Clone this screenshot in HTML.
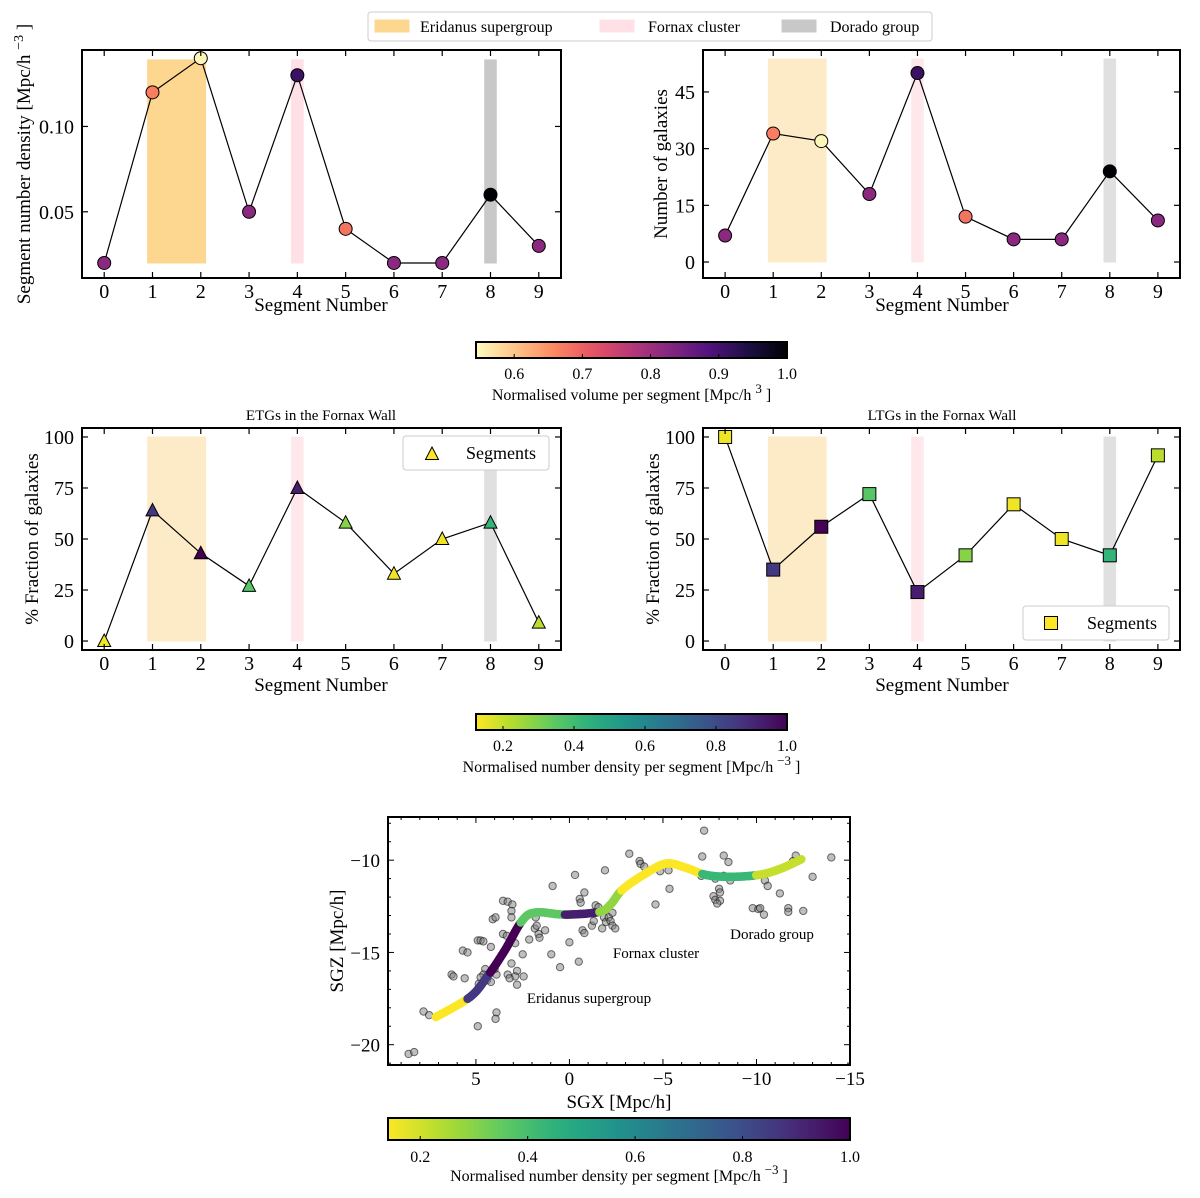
<!DOCTYPE html>
<html><head><meta charset="utf-8"><style>
body{margin:0;background:#fff}
svg{display:block;font-family:"Liberation Serif",serif}
svg text{font-family:"Liberation Serif",serif}
</style></head><body>
<svg id="fig" width="1200" height="1198" viewBox="0 0 1200 1198" xmlns="http://www.w3.org/2000/svg">
<defs>
<linearGradient id="gMagma" x1="0" x2="1" y1="0" y2="0"></linearGradient>
<linearGradient id="gVir" x1="0" x2="1" y1="0" y2="0"></linearGradient>
</defs>
</svg>
<script>
const segments = [0,1,2,3,4,5,6,7,8,9];
const density = [0.02,0.12,0.14,0.05,0.13,0.04,0.02,0.02,0.06,0.03];
const nGalaxies = [7,34,32,18,50,12,6,6,24,11];
const volume = [0.82,0.67,0.55,0.82,0.91,0.68,0.82,0.82,1.0,0.82];
const etgFrac = [0,64,43,27,75,58,33,50,58,9];
const ltgFrac = [100,35,56,72,24,42,67,50,42,91];
const ytickDensity = [0.05,0.10];
const ytickCount = [0,15,30,45];
const ytickFrac = [0,25,50,75,100];
const cbVolTicks = [0.6,0.7,0.8,0.9,1.0];
const cbDenTicks = [0.2,0.4,0.6,0.8,1.0];
const sgxTicks = [5,0,-5,-10,-15];
const sgzTicks = [-10,-15,-20];
const curveX = [7.14,5.32,4.39,3.46,2.53,1.78,0.24,-1.6,-2.2,-2.86,-4.16,-5.19,-6.2,-7.3,-8.6,-10.1,-11.2,-12.4];
const curveY = [-18.5,-17.42,-16.3,-14.9,-13.28,-12.83,-12.95,-12.8,-12.4,-11.57,-10.67,-10.18,-10.4,-10.8,-10.9,-10.8,-10.5,-9.95];
const segBoundsX = [5.4,4.2,2.6,0.2,-1.6,-2.8,-5.0,-7.1,-10.0];
const galX = [8.6,8.3,7.8,7.5,4.9,6.3,6.2,5.6,5.7,5.45,4.9,4.75,4.6,4.2,4.1,3.95,3.55,3.3,3.05,3.1,3.1,3.55,3.35,2.9,3.1,3.3,2.8,2.9,3.2,2.8,2.45,3.9,4.0,4.5,4.6,4.75,4.85,4.4,4.2,3.9,3.95,2.5,2.15,1.85,1.75,1.65,1.6,1.3,1.8,0.9,0.97,0.5,0.0,-0.3,-0.55,-0.6,-0.8,-0.5,-0.7,-0.8,-1.2,-1.3,-1.4,-1.55,-1.75,-1.85,-1.95,-2.1,-2.2,-2.3,-2.45,-2.3,-1.75,-1.9,-3.2,-3.75,-3.8,-4.0,-4.6,-4.85,-5.3,-5.35,-7.2,-7.1,-7.05,-7.8,-8.25,-8.5,-8.6,-8.25,-8.0,-8.05,-7.7,-7.8,-8.05,-7.9,-9.8,-10.1,-10.2,-10.4,-10.45,-10.6,-11.25,-11.7,-11.7,-11.95,-12.1,-12.5,-13.0,-14.0];
const galY = [-20.5,-20.4,-18.2,-18.4,-19.0,-16.2,-16.3,-16.4,-14.9,-15.0,-14.35,-14.35,-14.4,-14.7,-13.2,-13.1,-12.2,-12.25,-12.4,-12.75,-13.1,-14.0,-14.1,-14.5,-15.6,-16.2,-16.0,-16.3,-16.4,-16.75,-16.3,-16.2,-15.9,-15.9,-16.2,-16.35,-16.7,-16.5,-16.6,-18.25,-18.6,-15.1,-14.3,-13.7,-13.55,-14.0,-14.2,-13.8,-13.1,-11.4,-15.1,-15.8,-14.45,-10.8,-12.1,-12.3,-11.75,-15.5,-13.8,-13.95,-13.55,-13.3,-12.45,-12.55,-12.75,-13.1,-13.35,-13.1,-13.3,-13.55,-13.7,-12.85,-13.7,-10.55,-9.65,-10.05,-10.2,-10.35,-12.4,-10.6,-10.55,-11.55,-8.4,-9.8,-10.85,-11.0,-9.75,-10.1,-11.1,-10.85,-11.55,-11.75,-11.95,-12.15,-12.2,-12.35,-12.6,-12.65,-12.6,-12.95,-11.1,-11.4,-11.8,-12.6,-12.8,-10.05,-9.75,-12.75,-10.9,-9.85];

const NS="http://www.w3.org/2000/svg";
const svg=document.getElementById('fig');
function el(tag,attrs,parent){const e=document.createElementNS(NS,tag);for(const k in attrs)e.setAttribute(k,attrs[k]);(parent||svg).appendChild(e);return e;}
function txt(s,x,y,size,anchor,parent,rot){const t=el('text',{x:x,y:y,'font-size':size,'text-anchor':anchor||'middle',fill:'#000','font-family':'Liberation Serif, serif'},parent);if(rot)t.setAttribute('transform','rotate(-90 '+x+' '+y+')');t.textContent=s;return t;}
function hex(c){return [parseInt(c.slice(1,3),16),parseInt(c.slice(3,5),16),parseInt(c.slice(5,7),16)];}
function cmap(stops,t){t=Math.max(0,Math.min(1,t));const n=stops.length-1;const i=Math.min(n-1,Math.floor(t*n));const f=t*n-i;const a=hex(stops[i]),b=hex(stops[i+1]);return 'rgb('+a.map((v,k)=>Math.round(v+(b[k]-v)*f)).join(',')+')';}
const MAGMA=['#000004','#1c1044','#51127c','#832681','#b73779','#e75263','#fc8961','#fec488','#fcfdbf'];
const VIR=['#440154','#472d7b','#3b528b','#2c728e','#21918c','#28ae80','#5ec962','#addc30','#fde725'];
const volMin=0.544, denMin=0.124, denMin2=0.14;
const maxD=Math.max(...density);
function volColor(v){return cmap(MAGMA,1-(v-volMin)/(1-volMin));}
function denColor(v){return cmap(VIR,1-(v-denMin)/(1-denMin));}

function makeAxes(name,L,T,R,B,x0,x1,y0,y1){
  const g=el('g',{});
  return {g,L,T,R,B,sx:v=>L+(v-x0)/(x1-x0)*(R-L),sy:v=>B-(v-y0)/(y1-y0)*(B-T)};
}
function frame(ax){el('rect',{x:ax.L,y:ax.T,width:ax.R-ax.L,height:ax.B-ax.T,fill:'none',stroke:'#000','stroke-width':2},ax.g);}
function xticks(ax,vals,labels,size){vals.forEach((v,i)=>{const x=ax.sx(v);el('line',{x1:x,x2:x,y1:ax.B,y2:ax.B-6,stroke:'#000','stroke-width':1.2},ax.g);el('line',{x1:x,x2:x,y1:ax.T,y2:ax.T+6,stroke:'#000','stroke-width':1.2},ax.g);const t=txt(labels[i],x,ax.B+20,size||20,'middle',ax.g);});}
function yticks(ax,vals,labels,size){vals.forEach((v,i)=>{const y=ax.sy(v);el('line',{x1:ax.L,x2:ax.L+6,y1:y,y2:y,stroke:'#000','stroke-width':1.2},ax.g);el('line',{x1:ax.R,x2:ax.R-6,y1:y,y2:y,stroke:'#000','stroke-width':1.2},ax.g);const t=txt(labels[i],ax.L-8,y+7,size||20,'end',ax.g);});}
function bands(ax,yb,yt,cols){
  const spans=[[0.9,2.1,cols[0]],[3.88,4.12,cols[1]],[7.88,8.12,cols[2]]];
  const names=['eridanus-band','fornax-band','dorado-band'];
  spans.forEach((s,i)=>{const r=el('rect',{x:ax.sx(s[0]),y:ax.sy(yt),width:ax.sx(s[1])-ax.sx(s[0]),height:ax.sy(yb)-ax.sy(yt),fill:s[2],stroke:s[2]},ax.g);});
}
function line(ax,ys){el('polyline',{points:segments.map((s,i)=>ax.sx(s)+','+ax.sy(ys[i])).join(' '),fill:'none',stroke:'#000','stroke-width':1.2},ax.g);}
function marker(ax,type,x,y,col){
  let m;
  if(type==='o')m=el('circle',{cx:x,cy:y,r:6.5,fill:col,stroke:'#000','stroke-width':1},ax.g);
  else if(type==='^')m=el('polygon',{points:`${x},${y-7} ${x-6.5},${y+5.5} ${x+6.5},${y+5.5}`,fill:col,stroke:'#000','stroke-width':1},ax.g);
  else m=el('rect',{x:x-6.5,y:y-6.5,width:13,height:13,fill:col,stroke:'#000','stroke-width':1},ax.g);
  return m;
}
const segLabels=segments.map(String);

// Top legend
const lg=el('g',{});
el('rect',{x:368,y:12,width:564,height:29,rx:3,fill:'#fff',stroke:'#ccc'},lg);
[[375,'#fdd68f','Eridanus supergroup',420],[600,'#ffe0e6','Fornax cluster',648],[782,'#c8c8c8','Dorado group',830]].forEach(a=>{const r=el('rect',{x:a[0],y:20,width:34,height:12,fill:a[1],stroke:a[1]},lg);const t=txt(a[2],a[3],32,16,'start',lg);});

// Top-left
let ax=makeAxes('density-panel',82,50,561,278,-0.46,9.46,0.0112,0.1448);
bands(ax,0.02,0.139,['#fdd68f','#ffe0e6','#c8c8c8']);
line(ax,density);
segments.forEach((s,i)=>{const m=marker(ax,'o',ax.sx(s),ax.sy(density[i]),volColor(volume[i]));});
frame(ax);xticks(ax,segments,segLabels);yticks(ax,ytickDensity,['0.05','0.10']);
txt('Segment Number',321,311,19,'middle',ax.g);
let yl=txt('Segment number density [Mpc/h',30,164,19,'middle',ax.g,true);yl.innerHTML='Segment number density [Mpc/h <tspan dy="-7" font-size="14">−3</tspan><tspan dy="7"> ]</tspan>';

// Top-right
ax=makeAxes('galaxy-count-panel',703,50,1180,278,-0.46,9.46,-4.23,56.1);
bands(ax,0,53.7,['#fdebc8','#ffe8ec','#e0e0e0']);
line(ax,nGalaxies);
segments.forEach((s,i)=>{const m=marker(ax,'o',ax.sx(s),ax.sy(nGalaxies[i]),volColor(volume[i]));});
frame(ax);xticks(ax,segments,segLabels);yticks(ax,ytickCount,ytickCount.map(String));
txt('Segment Number',942,311,19,'middle',ax.g);
txt('Number of galaxies',667,164,19,'middle',ax.g,true);

// Colorbars
function colorbar(name,gid,stops,rev,L,T,W,H,vmin,ticks,labs,label,ly,fs){
  const g=el('g',{});
  const grad=document.getElementById(gid);
  for(let i=0;i<=20;i++){el('stop',{offset:(i/20),'stop-color':cmap(stops,rev?1-i/20:i/20)},grad);}
  el('rect',{x:L,y:T,width:W,height:H,fill:'url(#'+gid+')',stroke:'#000','stroke-width':2},g);
  ticks.forEach((v,i)=>{const x=L+(v-vmin)/(1-vmin)*W;el('line',{x1:x,x2:x,y1:T+H,y2:T+H-4,stroke:'#000'},g);const t=txt(labs[i],x,T+H+21,fs||16,'middle',g);});
  const t=txt('',L+W/2,ly,16,'middle',g);t.innerHTML=label;
}
colorbar('volume-colorbar','gMagma',MAGMA,true,476,342,311,16,volMin,cbVolTicks,cbVolTicks.map(v=>v.toFixed(1)),'Normalised volume per segment [Mpc/h <tspan dy="-7" font-size="13">3</tspan><tspan dy="7"> ]</tspan>',400);

// Middle-left ETG
ax=makeAxes('etg-panel',82,428,561,650,-0.46,9.46,-4.4,104.4);
bands(ax,0,100,['#fdebc8','#ffe8ec','#e0e0e0']);
line(ax,etgFrac);
segments.forEach((s,i)=>{const m=marker(ax,'^',ax.sx(s),ax.sy(etgFrac[i]),denColor(density[i]/maxD));});
frame(ax);xticks(ax,segments,segLabels);yticks(ax,ytickFrac,ytickFrac.map(String));
txt('Segment Number',321,691,19,'middle',ax.g);
txt('% Fraction of galaxies',38,539,19,'middle',ax.g,true);
txt('ETGs in the Fornax Wall',321,420,15,'middle',ax.g);
el('rect',{x:403,y:436,width:146,height:34,rx:3,fill:'#fff',stroke:'#ccc'},ax.g);
marker(ax,'^',432,454,'#fde725');txt('Segments',466,459,18,'start',ax.g);

// Middle-right LTG
ax=makeAxes('ltg-panel',703,428,1180,650,-0.46,9.46,-4.4,104.4);
bands(ax,0,100,['#fdebc8','#ffe8ec','#e0e0e0']);
line(ax,ltgFrac);
segments.forEach((s,i)=>{const m=marker(ax,'s',ax.sx(s),ax.sy(ltgFrac[i]),denColor(density[i]/maxD));});
frame(ax);xticks(ax,segments,segLabels);yticks(ax,ytickFrac,ytickFrac.map(String));
txt('Segment Number',942,691,19,'middle',ax.g);
txt('% Fraction of galaxies',659,539,19,'middle',ax.g,true);
txt('LTGs in the Fornax Wall',942,420,15,'middle',ax.g);
el('rect',{x:1023,y:606,width:146,height:34,rx:3,fill:'#fff',stroke:'#ccc'},ax.g);
marker(ax,'s',1051,623,'#fde725');txt('Segments',1087,629,18,'start',ax.g);

colorbar('density-colorbar','gVir',VIR,true,476,714,311,16,denMin,cbDenTicks,cbDenTicks.map(v=>v.toFixed(1)),'Normalised number density per segment [Mpc/h <tspan dy="-7" font-size="13">−3</tspan><tspan dy="7"> ]</tspan>',772);

// Scatter SGX/SGZ
ax=makeAxes('sgx-sgz-panel',388,817,850,1065,9.7,-15,-21.1,-7.66);
galX.forEach((x,i)=>{const c=el('circle',{cx:ax.sx(x),cy:ax.sy(galY[i]),r:3.7,fill:'rgba(128,128,128,0.5)',stroke:'rgba(0,0,0,0.55)','stroke-width':1},ax.g);});
// smooth filament via Catmull-Rom, coloured by segment
function segOf(x){let k=0;while(k<segBoundsX.length&&x<segBoundsX[k])k++;return k;}
function cr(p0,p1,p2,p3,t){return 0.5*((2*p1)+(-p0+p2)*t+(2*p0-5*p1+4*p2-p3)*t*t+(-p0+3*p1-3*p2+p3)*t*t*t);}
const n=curveX.length;
for(let i=0;i<n-1;i++){
  const i0=Math.max(0,i-1),i3=Math.min(n-1,i+2);
  const N=12;
  for(let j=0;j<N;j++){
    const ta=j/N,tb=(j+1)/N;
    const xa=cr(curveX[i0],curveX[i],curveX[i+1],curveX[i3],ta), ya=cr(curveY[i0],curveY[i],curveY[i+1],curveY[i3],ta);
    const xb=cr(curveX[i0],curveX[i],curveX[i+1],curveX[i3],tb), yb=cr(curveY[i0],curveY[i],curveY[i+1],curveY[i3],tb);
    const s=segOf((xa+xb)/2);
    const l=el('line',{x1:ax.sx(xa),y1:ax.sy(ya),x2:ax.sx(xb),y2:ax.sy(yb),stroke:cmap(VIR,1-(density[s]/maxD-denMin2)/(1-denMin2)),'stroke-width':8.5,'stroke-linecap':'round'},ax.g);
    
    
  }
}
frame(ax);
for(let v=10;v>=-15;v-=1){const x=ax.sx(v);if(x<ax.L||x>ax.R)continue;const len=(v%5===0)?6:3;el('line',{x1:x,x2:x,y1:ax.B,y2:ax.B-len,stroke:'#000'},ax.g);el('line',{x1:x,x2:x,y1:ax.T,y2:ax.T+len,stroke:'#000'},ax.g);}
for(let v=-8;v>=-21;v-=1){const y=ax.sy(v);const len=(v%5===0)?6:3;el('line',{x1:ax.L,x2:ax.L+len,y1:y,y2:y,stroke:'#000'},ax.g);el('line',{x1:ax.R,x2:ax.R-len,y1:y,y2:y,stroke:'#000'},ax.g);}
sgxTicks.forEach(v=>{const t=txt(v<0?'−'+(-v):String(v),ax.sx(v),ax.B+20,19,'middle',ax.g);});
sgzTicks.forEach(v=>{const t=txt('−'+(-v),ax.L-8,ax.sy(v)+7,19,'end',ax.g);});
txt('SGX [Mpc/h]',619,1108,19,'middle',ax.g);
txt('SGZ [Mpc/h]',343,941,19,'middle',ax.g,true);
txt('Eridanus supergroup',589,1003,15,'middle',ax.g);
txt('Fornax cluster',656,958,15,'middle',ax.g);
txt('Dorado group',772,939,15,'middle',ax.g);

// bottom colorbar
const g3=el('g',{});
const gr=el('linearGradient',{id:'gVir2',x1:0,x2:1,y1:0,y2:0},svg.querySelector('defs'));
for(let i=0;i<=20;i++)el('stop',{offset:i/20,'stop-color':cmap(VIR,1-i/20)},gr);
el('rect',{x:388,y:1118,width:462,height:22,fill:'url(#gVir2)',stroke:'#000','stroke-width':2},g3);
cbDenTicks.forEach(v=>{const x=388+(v-denMin2)/(1-denMin2)*462;el('line',{x1:x,x2:x,y1:1140,y2:1136,stroke:'#000'},g3);const t=txt(v.toFixed(1),x,1162,16,'middle',g3);});
const t3=txt('',619,1181,16,'middle',g3);t3.innerHTML='Normalised number density per segment [Mpc/h <tspan dy="-7" font-size="13">−3</tspan><tspan dy="7"> ]</tspan>';
</script>
</body></html>
